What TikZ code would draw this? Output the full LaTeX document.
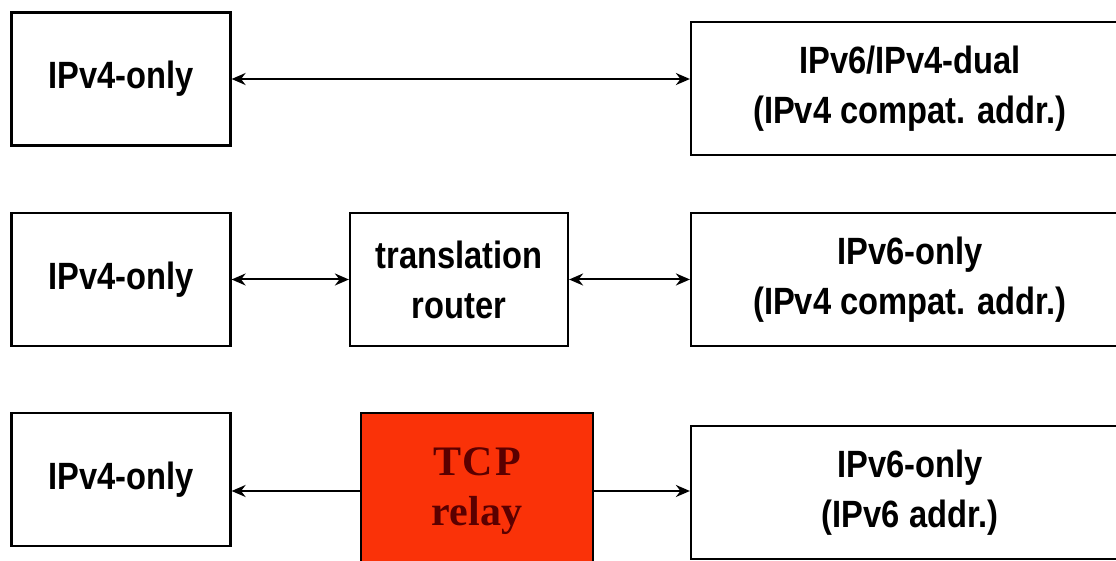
\documentclass[tikz,border=0pt]{standalone}
\usepackage{fontspec}
\newfontfamily\hostfont{Liberation Sans}[FakeStretch=0.86]
\newfontfamily\relayfont{Liberation Serif}
\usetikzlibrary{arrows.meta}
\definecolor{relayred}{RGB}{250,50,8}
\definecolor{relaytext}{RGB}{90,0,0}
\tikzset{every picture/.style={line width=1pt}}
\tikzset{
  hostbox/.style={draw, line width=1.1pt, inner sep=0pt, align=center,
    font=\hostfont\bfseries\fontsize{19}{25}\selectfont},
  link/.style={{Stealth[length=7pt,width=6pt]}-{Stealth[length=7pt,width=6pt]}},
  onelink/.style={-{Stealth[length=7pt,width=6pt]}}
}

\begin{document}
\begin{tikzpicture}[x=0.5pt, y=-0.5pt]
    \useasboundingbox (0,0) rectangle (1116,561);
    % first row: dual stack host
    \node[hostbox, minimum width=109.5pt, minimum height=66.5pt] (v4a) at (121,79) {IPv4-only};
    \node[hostbox, minimum width=219pt, minimum height=66.5pt] (dual) at (910,88.5) {IPv6/IPv4-dual\\(IPv4 compat. addr.)};
    \draw[link] (v4a.east) -- (dual.west |- v4a.east);
    % second row: translation router
    \node[hostbox, minimum width=109.5pt, minimum height=66.5pt] (v4b) at (121,279.5) {IPv4-only};
    \node[hostbox, minimum width=109pt, minimum height=66.5pt] (router) at (459,279.5) {translation\\router};
    \node[hostbox, minimum width=219pt, minimum height=66.5pt] (v6a) at (910,279.5) {IPv6-only\\(IPv4 compat. addr.)};
    \draw[link] (v4b.east) -- (router.west);
    \draw[link] (router.east) -- (v6a.west);
    % third row: TCP relay
    \node[hostbox, minimum width=109.5pt, minimum height=66.5pt] (v4c) at (121,479.5) {IPv4-only};
    \node[draw, line width=1.1pt, fill=relayred, inner sep=0pt, align=center,
      minimum width=116pt, minimum height=78pt, text=relaytext,
      font=\relayfont\bfseries\fontsize{21}{25}\selectfont] (relay) at (477,491) {T\kern1pt C\kern1pt P\\relay};
    \node[hostbox, minimum width=219pt, minimum height=66.5pt] (v6b) at (910,492.5) {IPv6-only\\(IPv6 addr.)};
    \draw[onelink] (relay.west) -- (v4c.east |- relay.west);
    \draw[onelink] (relay.east) -- (v6b.west |- relay.east);
\end{tikzpicture}
\end{document}
